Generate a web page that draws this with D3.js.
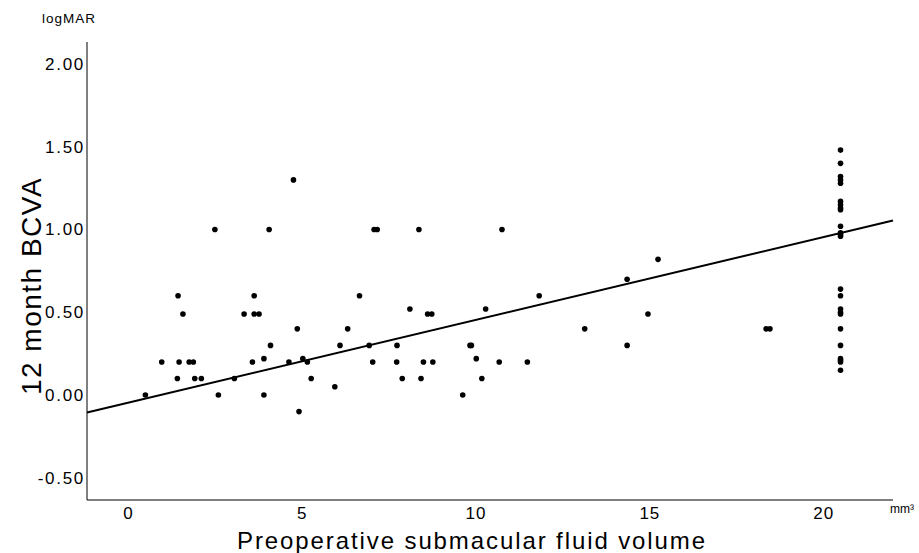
<!DOCTYPE html>
<html>
<head>
<meta charset="utf-8">
<script src="https://cdn.jsdelivr.net/npm/d3@7"></script>
<style>
  body { margin: 0; background: #fff; }
  text { font-family: "Liberation Sans", Arial, sans-serif; fill: #000; }
</style>
</head>
<body>
<div id="vis"></div>
<script>
// frame
const FRAME_WIDTH = 919
const FRAME_HEIGHT = 553
const MARGINS = {left: 87, right: 26, top: 42, bottom: 53}

// data: volume (mm3) and 12 month BCVA (logMAR)
const volume = [
  2.50, 4.06, 1.44, 1.58, 3.34, 3.63, 3.63, 3.77, 4.10, 0.97,
  1.47, 1.76, 1.88, 1.42, 1.92, 2.11, 3.06, 3.58, 3.91, 0.50,
  2.60, 3.91,
  4.76, 7.08, 7.17, 8.37, 6.66, 8.11, 8.62, 8.74, 4.87, 6.32,
  6.10, 6.94, 7.74, 9.84, 4.63, 5.03, 5.16, 7.04, 7.73, 8.50,
  8.77, 5.27, 7.89, 8.43, 5.95, 9.63, 4.92,
  10.76, 15.25, 14.36, 11.83, 10.29, 14.96, 13.14, 9.88, 14.36, 10.02,
  10.68, 11.49, 10.18, 18.36, 18.47,
  20.5, 20.5, 20.5, 20.5, 20.5, 20.5, 20.5, 20.5, 20.5, 20.5,
  20.5, 20.5, 20.5, 20.5, 20.5, 20.5, 20.5, 20.5, 20.5, 20.5,
  20.5, 20.5, 20.5, 20.5
]
const bcva = [
  1.00, 1.00, 0.60, 0.49, 0.49, 0.60, 0.49, 0.49, 0.30, 0.20,
  0.20, 0.20, 0.20, 0.10, 0.10, 0.10, 0.10, 0.20, 0.22, 0.00,
  0.00, 0.00,
  1.30, 1.00, 1.00, 1.00, 0.60, 0.52, 0.49, 0.49, 0.40, 0.40,
  0.30, 0.30, 0.30, 0.30, 0.20, 0.22, 0.20, 0.20, 0.20, 0.20,
  0.20, 0.10, 0.10, 0.10, 0.05, 0.00, -0.10,
  1.00, 0.82, 0.70, 0.60, 0.52, 0.49, 0.40, 0.30, 0.30, 0.22,
  0.20, 0.20, 0.10, 0.40, 0.40,
  1.48, 1.40, 1.32, 1.30, 1.28, 1.17, 1.15, 1.13, 1.12, 1.02,
  0.98, 0.96, 0.64, 0.60, 0.52, 0.50, 0.49, 0.40, 0.30, 0.22,
  0.21, 0.20, 0.15, 0.97
]

// fitted line
const FIT_INTERCEPT = -0.046
const FIT_SLOPE = 0.050

const xTicks = [0, 5, 10, 15, 20]
const yTicks = [-0.5, 0, 0.5, 1.0, 1.5, 2.0]

const points = volume.map((v, i) => ({x: v, y: bcva[i]}))

const svg = d3.select('#vis')
  .append('svg')
  .attr('width', FRAME_WIDTH)
  .attr('height', FRAME_HEIGHT)

const x = d3.scaleLinear()
  .domain([-1.18, 22.01])
  .range([MARGINS.left, FRAME_WIDTH - MARGINS.right])

const y = d3.scaleLinear()
  .domain([-0.634, 2.133])
  .range([FRAME_HEIGHT - MARGINS.bottom, MARGINS.top])

// x axis (no tick marks)
const xAxis = svg.append('g')
  .attr('transform', 'translate(0,' + (FRAME_HEIGHT - MARGINS.bottom) + ')')
  .call(d3.axisBottom(x).tickValues(xTicks).tickSize(0).tickPadding(7)
    .tickFormat(d3.format('d')))
xAxis.select('.domain').attr('stroke', '#000').attr('d', 'M' + x.range()[0] + ',0H' + x.range()[1])
xAxis.selectAll('text')
  .style('font-family', '"Liberation Sans", Arial, sans-serif')
  .attr('font-size', '17px')
  .attr('letter-spacing', '1px')

// y axis
const yAxis = svg.append('g')
  .attr('transform', 'translate(' + MARGINS.left + ',0)')
  .call(d3.axisLeft(y).tickValues(yTicks).tickSize(0).tickPadding(2)
    .tickFormat(d3.format('.2f')))
yAxis.select('.domain').attr('stroke', '#000').attr('d', 'M0,' + y.range()[1] + 'V' + y.range()[0])
yAxis.selectAll('text')
  .style('font-family', '"Liberation Sans", Arial, sans-serif')
  .attr('font-size', '17px')
  .attr('letter-spacing', '1.7px')
  .text(d => d3.format('.2f')(d).replace('−', '-'))

// regression line
const fit = d => FIT_INTERCEPT + FIT_SLOPE * d
svg.append('line')
  .attr('x1', x(x.domain()[0])).attr('y1', y(fit(x.domain()[0])))
  .attr('x2', x(x.domain()[1])).attr('y2', y(fit(x.domain()[1])))
  .attr('stroke', '#000')
  .attr('stroke-width', 2)

// points
svg.selectAll('circle')
  .data(points)
  .enter()
  .append('circle')
  .attr('cx', d => x(d.x))
  .attr('cy', d => y(d.y))
  .attr('r', 2.8)
  .attr('fill', '#000')

// unit labels
svg.append('text')
  .attr('x', 42).attr('y', 23)
  .attr('font-size', '13.5px')
  .attr('letter-spacing', '1px')
  .text('logMAR')

svg.append('text')
  .attr('x', 890).attr('y', 513)
  .attr('font-size', '12px')
  .text('mm³')

// axis titles
svg.append('text')
  .attr('x', 472).attr('y', 549)
  .attr('text-anchor', 'middle')
  .attr('font-size', '24px')
  .attr('letter-spacing', '1.9px')
  .text('Preoperative submacular fluid volume')

svg.append('text')
  .attr('transform', 'translate(41,286) rotate(-90)')
  .attr('text-anchor', 'middle')
  .attr('font-size', '28px')
  .attr('letter-spacing', '1.5px')
  .text('12 month BCVA')
</script>
</body>
</html>
